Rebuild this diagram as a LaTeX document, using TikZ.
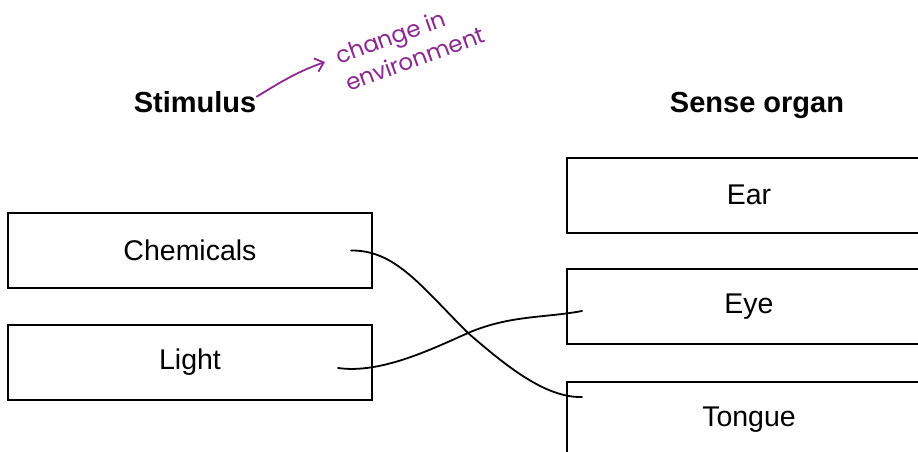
\documentclass[tikz,border=0pt]{standalone}
\usepackage{fontspec}
\setmainfont{Liberation Sans}
\newfontfamily\handfont{Poppins}
\usetikzlibrary{arrows.meta}
\definecolor{notepurple}{RGB}{140,40,145}

\begin{document}
\begin{tikzpicture}[
    x=1pt, y=-1pt,
    every node/.style={font=\fontsize{28.5}{32}\selectfont},
    sensebox/.style={draw, line width=2pt, minimum width=364pt, minimum height=75pt, inner sep=0pt},
    heading/.style={font=\fontsize{29}{32}\selectfont\bfseries, anchor=base},
    wire/.style={line width=1.8pt, line cap=round},
    note/.style={notepurple, align=left, inner sep=1pt, font=\handfont\fontsize{23}{29}\selectfont}
]
    \useasboundingbox (0,0) rectangle (918,452);
    \clip (0,0) rectangle (918,452);

    % headings
    \node[heading] (stim) at (195,112) {Stimulus};
    \node[heading] (organ) at (757,112) {Sense organ};

    % stimulus boxes (left) and sense organ boxes (right, cut off by the page)
    \node[sensebox] (chem) at (190,250.5) {Chemicals};
    \node[sensebox] (light) at (190,362.5) {Light};
    \node[sensebox] (ear) at (749,195) {Ear};
    \node[sensebox] (eye) at (749,306.5) {Eye};
    \node[sensebox] (tongue) at (749,419.5) {Tongue};

    % hand drawn matching lines
    \draw[wire] ([xshift=-22pt]chem.east)
        .. controls (395,250) and (420,285) .. (468,333)
        .. controls (505,365) and (545,398) .. ([xshift=16pt,yshift=22.5pt]tongue.west);
    \draw[wire] ([xshift=-35pt,yshift=-5.5pt]light.east)
        .. controls (380,374) and (430,350) .. (468,333)
        .. controls (510,315) and (545,318) .. ([xshift=16pt,yshift=-4.5pt]eye.west);

    % handwritten note
    \node[note, rotate=20] (change) at (410,45) {change in\\environment};
    \coordinate (notetip) at (325,62);
    \draw[notepurple, line width=1.8pt, line cap=round, -{Straight Barb[length=8pt,width=14pt]}]
        ([xshift=-3pt,yshift=5pt]stim.east) .. controls (276,85) and (296,72) .. (notetip);
\end{tikzpicture}
\end{document}
